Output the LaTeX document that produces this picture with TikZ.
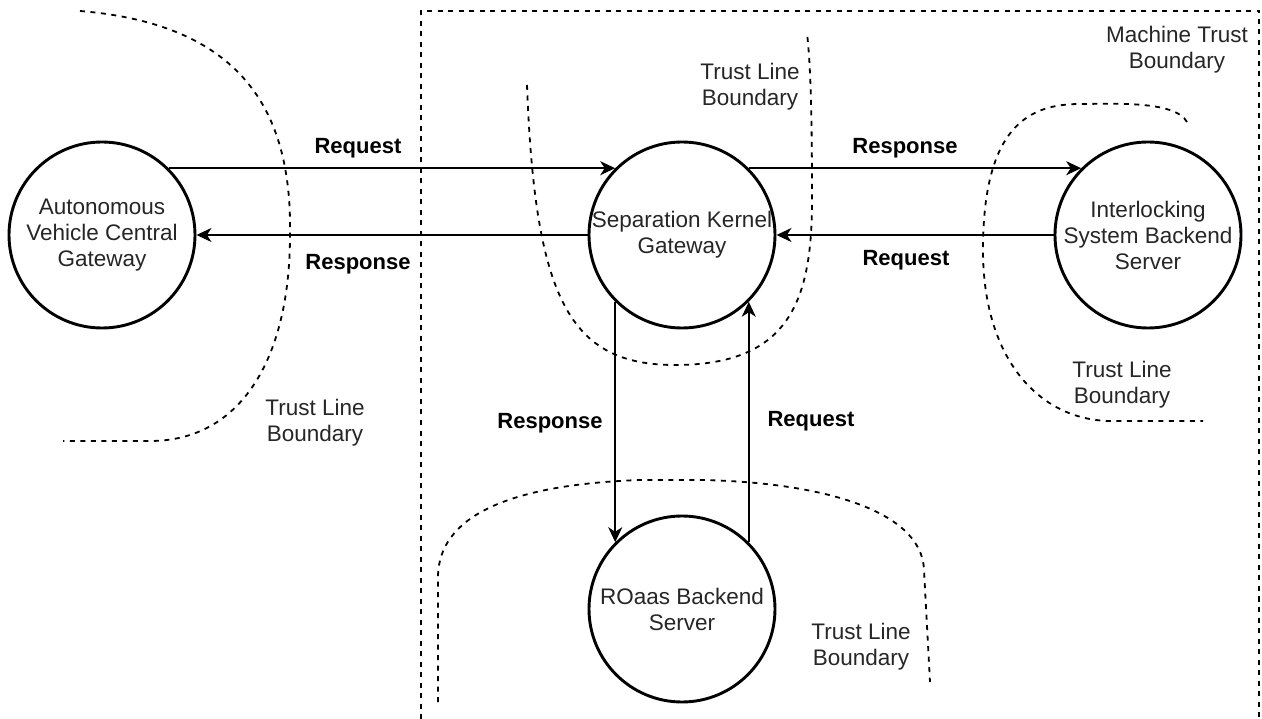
\documentclass[tikz,border=0pt]{standalone}
\usepackage{fontspec}
\setmainfont{Liberation Sans}
\usetikzlibrary{arrows.meta}

\tikzset{
  proc/.style={circle, draw=black, line width=2.9pt, minimum size=186pt, inner sep=0pt, fill=white},
  txt/.style={font=\fontsize{22.5}{26}\selectfont, align=center, text=black!85, inner sep=0pt},
  lbl/.style={font=\fontsize{22}{26}\selectfont\bfseries, text=black, inner sep=0pt},
  flow/.style={line width=1.6pt, -{Stealth[length=15pt, width=14pt, inset=4.5pt]}},
  bound/.style={line width=1.8pt, dash pattern=on 5pt off 5.5pt},
}

\begin{document}
\begin{tikzpicture}[x=1pt, y=-1pt]
\useasboundingbox (0,0) rectangle (1262,719);

% machine trust boundary (open at the bottom)
\draw[bound] (421,719) -- (421,11) -- (1259,11) -- (1259,719);

% trust line boundaries
\draw[bound] (80,11) .. controls (250,25) and (292,120) .. (290,235)
  .. controls (290,360) and (240,441) .. (150,441) -- (63,441);
\draw[bound] (527,85) .. controls (535,300) and (570,365) .. (675,365)
  .. controls (790,365) and (812,300) .. (812,200)
  .. controls (812,100) and (810,60) .. (807,33);
\draw[bound] (1187,122) .. controls (1175,100) and (1110,104) .. (1080,104)
  .. controls (1030,104) and (983,125) .. (983,250)
  .. controls (983,360) and (1040,420) .. (1110,421) -- (1203,421);
\draw[bound] (438,702) -- (438,575) .. controls (440,520) and (500,485) .. (640,480)
  -- (700,480) .. controls (820,482) and (922,510) .. (924,570) -- (930,682);

% processes
\node[proc] (avcg) at (102,235) {};
\node[proc] (skg) at (682,235) {};
\node[proc] (ilb) at (1148,235) {};
\node[proc] (roaas) at (682,609) {};

\node[txt] (avcgt) at (avcg) {Autonomous\\Vehicle Central\\Gateway};
\node[txt] (skgt) at (skg) {Separation Kernel\\Gateway};
\node[txt] (ilbt) at (ilb) {Interlocking\\System Backend\\Server};
\node[txt] (roaast) at (roaas) {ROaas Backend\\Server};

% data flows
\draw[flow] (avcg.45) -- (skg.135);
\draw[flow] (skg.west) -- (avcg.east);
\draw[flow] (skg.45) -- (ilb.135);
\draw[flow] (ilb.west) -- (skg.east);
\draw[flow] (skg.225) -- (roaas.135);
\draw[flow] (roaas.45) -- (skg.315);

% flow labels
\node[lbl] (req1) at (358,148) {Request};
\node[lbl] (resp1) at (358,264) {Response};
\node[lbl] (resp2) at (905,148) {Response};
\node[lbl] (req2) at (906,260) {Request};
\node[lbl] (resp3) at (550,423) {Response};
\node[lbl] (req3) at (811,421) {Request};

% boundary labels
\node[txt] (tl1) at (315,423) {Trust Line\\Boundary};
\node[txt] (tl2) at (750,87) {Trust Line\\Boundary};
\node[txt] (mtb) at (1177,50) {Machine Trust\\Boundary};
\node[txt] (tl3) at (1122,385) {Trust Line\\Boundary};
\node[txt] (tl4) at (861,647) {Trust Line\\Boundary};
\end{tikzpicture}
\end{document}
